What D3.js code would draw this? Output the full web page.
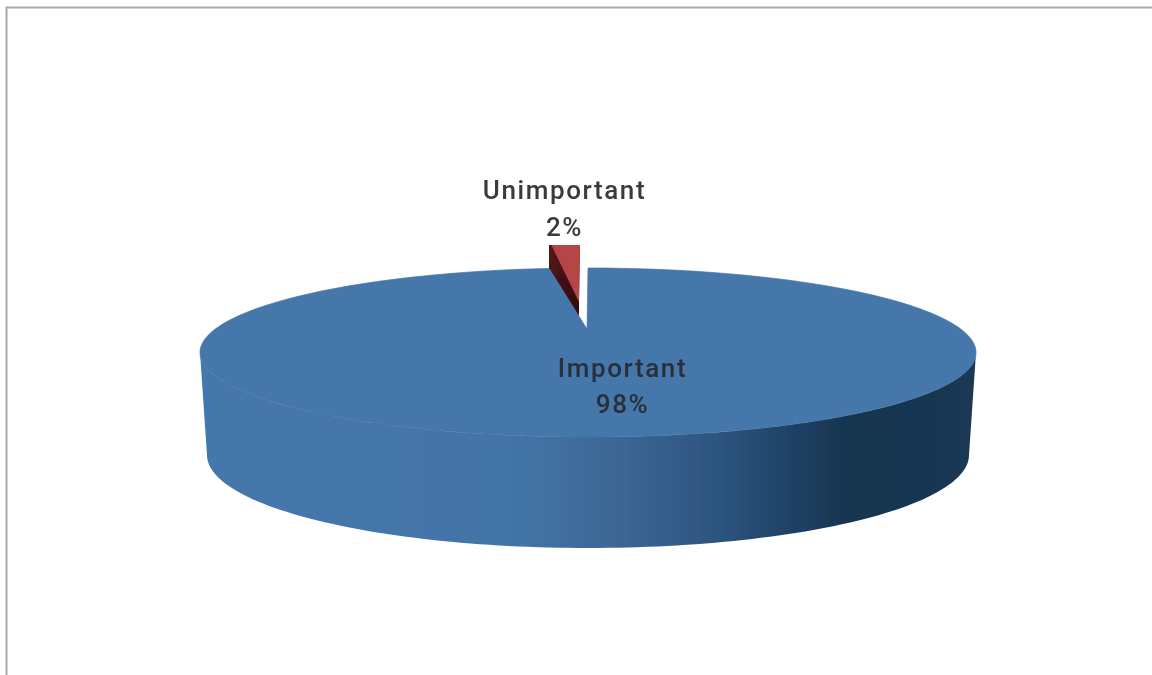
<!DOCTYPE html>
<html>
<head>
<meta charset="utf-8">
<script src="https://cdnjs.cloudflare.com/ajax/libs/d3/7.8.5/d3.min.js"></script>
<style>html,body{margin:0;padding:0;background:#fff;overflow:hidden}svg{display:block}</style>
</head>
<body>
<svg id="c" width="1152" height="675"></svg>
<script>
const categories = ["Important", "Unimportant"];
const values = [98.4, 1.6];
const percentLabels = ["98%", "2%"];

const svg = d3.select("#c");
const defs = svg.append("defs");

const sideGrad = defs.append("linearGradient").attr("id", "side")
  .attr("gradientUnits", "userSpaceOnUse").attr("x1", 200).attr("x2", 976).attr("y1", 0).attr("y2", 0);
[[0, "#4279b3"], [0.02, "#4477aa"], [0.25, "#4476a9"], [0.42, "#4373a5"], [0.55, "#3b6593"],
 [0.66, "#2e5580"], [0.76, "#1f4266"], [0.84, "#17344f"], [1, "#1a3855"]]
  .forEach(s => sideGrad.append("stop").attr("offset", s[0]).attr("stop-color", s[1]));

const darkGrad = defs.append("linearGradient").attr("id", "dark")
  .attr("x1", 0).attr("x2", 1).attr("y1", 0).attr("y2", 1);
[[0, "#5a1619"], [1, "#2f0c0f"]].forEach(s => darkGrad.append("stop").attr("offset", s[0]).attr("stop-color", s[1]));

defs.append("clipPath").attr("id", "plotClip").append("rect")
  .attr("x", 549).attr("y", 245).attr("width", 40).attr("height", 90);

const soft = defs.append("filter").attr("id", "soft")
  .attr("filterUnits", "userSpaceOnUse").attr("x", 0).attr("y", 0).attr("width", 1152).attr("height", 675);
soft.append("feGaussianBlur").attr("stdDeviation", 0.55);

const page = svg.append("g").attr("filter", "url(#soft)");

// frame
page.append("path").attr("d", "M6.5,675V7.5H1152").attr("fill", "none").attr("stroke", "#a9a9a9").attr("stroke-width", 2);

const arcs = d3.pie().sort(null).startAngle(0).endAngle(2 * Math.PI)(values);
const blue = arcs[0], red = arcs[1];

const ring = (sx, sy) => a => [sx(Math.sin(a)), sy(-Math.cos(a))];
const unit = d3.scaleLinear().domain([-1, 1]);

const topX = unit.copy().range([200, 976]), topY = unit.copy().range([268, 437]);
const botX = unit.copy().range([207, 969]), botY = unit.copy().range([362, 548]);
const topRing = ring(topX, topY), botRing = ring(botX, botY);

const line = d3.line();
const sweep = (from, to, n) => d3.range(n + 1).map(i => from + (to - from) * i / n);

// exploded small slice, cut off by the plot area
const liftX = unit.copy().range([192, 968]);
const liftY = unit.copy().range([241, 409]);
const faceX = unit.copy().range([277, 883]);
const dropY = unit.copy().range([256, 424]);
const liftRing = ring(liftX, liftY), faceRing = ring(faceX, liftY), dropRing = ring(liftX, dropY);
const redApexX = 579, redApexY = 302, redDepth = 15;

const redG = page.append("g").attr("clip-path", "url(#plotClip)");
redG.append("path")
  .attr("d", line([[redApexX, redApexY], [redApexX, redApexY + redDepth], dropRing(red.startAngle), liftRing(red.startAngle),
    ...sweep(red.startAngle, red.endAngle, 8).map(liftRing)]) + "Z")
  .attr("fill", "url(#dark)");
redG.append("path")
  .attr("d", line([[redApexX, redApexY], ...sweep(red.startAngle, red.endAngle, 8).map(faceRing)]) + "Z")
  .attr("fill", "#b64547");

// side wall
page.append("path")
  .attr("d", line([...sweep(Math.PI / 2, 3 * Math.PI / 2, 120).map(topRing),
    ...sweep(3 * Math.PI / 2, Math.PI / 2, 120).map(botRing)]) + "Z")
  .attr("fill", "url(#side)");

// top face with the cut-out wedge
const apexX = 587, apexY = 329;
page.append("path")
  .attr("d", line([[apexX, apexY], ...sweep(blue.startAngle, blue.endAngle, 240).map(topRing)]) + "Z")
  .attr("fill", "#4477aa").attr("stroke", "#4477aa").attr("stroke-width", 0.7);

// labels
const labels = [
  { i: 1, x: 564.5, y1: 199, y2: 236, fill: "#3a3a3a" },
  { i: 0, x: 622.5, y1: 377, y2: 413, fill: "#2a2f38" }
];
labels.forEach(l => {
  const t = page.append("text").attr("text-anchor", "middle").attr("fill", l.fill)
    .attr("font-family", "Roboto, sans-serif").attr("font-size", 26).attr("font-weight", 500).attr("letter-spacing", 1.6);
  t.append("tspan").attr("x", l.x).attr("y", l.y1).text(categories[l.i]);
  t.append("tspan").attr("x", l.x).attr("y", l.y2).text(percentLabels[l.i]);
});
</script>
</body>
</html>
